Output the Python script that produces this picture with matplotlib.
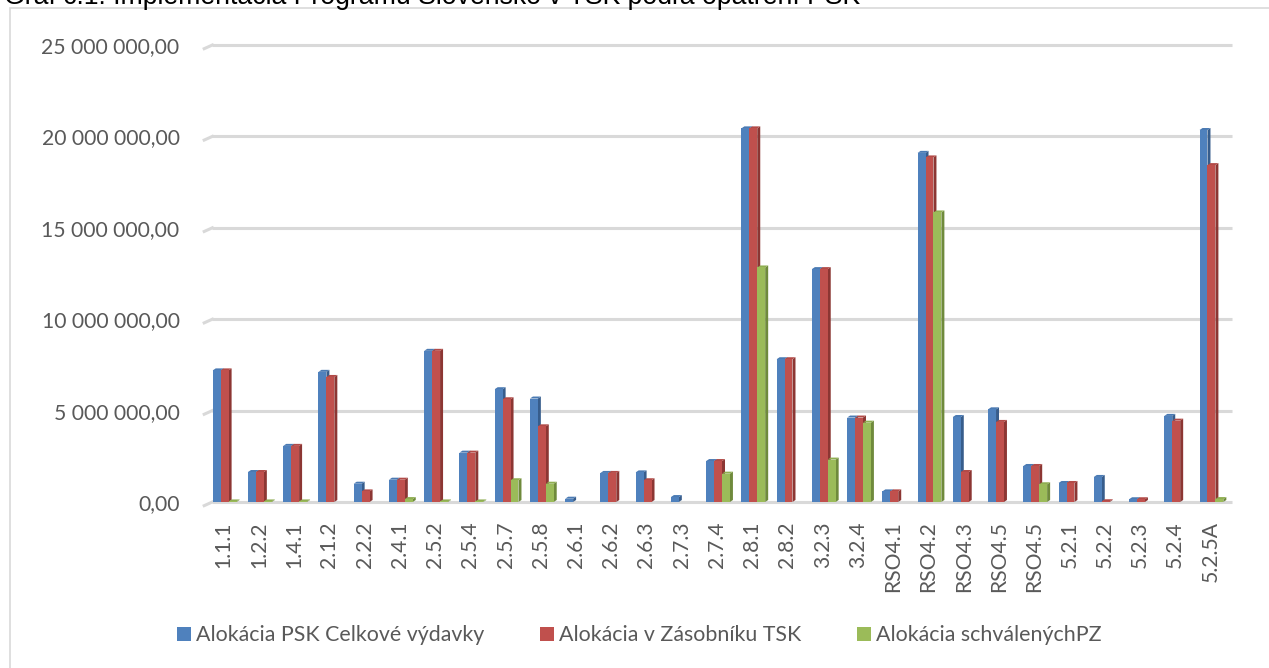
import matplotlib
matplotlib.use("Agg")
import matplotlib.pyplot as plt
from matplotlib.patches import Polygon, Rectangle
from matplotlib.ticker import FuncFormatter

# measures (opatrenia) and allocations in EUR
measures = ["1.1.1", "1.2.2", "1.4.1", "2.1.2", "2.2.2", "2.4.1", "2.5.2", "2.5.4",
            "2.5.7", "2.5.8", "2.6.1", "2.6.2", "2.6.3", "2.7.3", "2.7.4", "2.8.1",
            "2.8.2", "3.2.3", "3.2.4", "RSO4.1", "RSO4.2", "RSO4.3", "RSO4.5",
            "RSO4.5", "5.2.1", "5.2.2", "5.2.3", "5.2.4", "5.2.5A"]

psk_total = [7200000, 1640000, 3070000, 7120000, 1000000, 1220000, 8270000, 2700000,
             6170000, 5660000, 180000, 1590000, 1620000, 270000, 2240000, 20440000,
             7810000, 12740000, 4620000, 580000, 19100000, 4650000, 5070000,
             1970000, 1040000, 1370000, 150000, 4710000, 20350000]
tsk_stack = [7200000, 1640000, 3070000, 6840000, 580000, 1220000, 8270000, 2700000,
             5620000, 4140000, 0, 1590000, 1190000, 0, 2240000, 20440000,
             7810000, 12740000, 4620000, 580000, 18850000, 1640000, 4380000,
             1970000, 1040000, 40000, 150000, 4450000, 18430000]
approved_pz = [30000, 30000, 30000, 0, 0, 160000, 30000, 30000,
               1190000, 1000000, 0, 0, 0, 0, 1550000, 12830000,
               0, 2320000, 4340000, 0, 15840000, 0, 0,
               970000, 0, 0, 0, 0, 160000]

series_names = ["Alokácia PSK Celkové výdavky", "Alokácia v Zásobníku TSK",
                "Alokácia schválenýchPZ"]

front = ["#4F81BD", "#C0504D", "#9BBB59"]
side = ["#375D8C", "#8C3633", "#6F8A3C"]
top = ["#4A7AB3", "#B24A47", "#8FAE52"]

label_font = ["Lato", "DejaVu Sans"]
grey_txt = "#595959"

fig = plt.figure(figsize=(12.69, 6.68), dpi=100, facecolor="white")
ax = fig.add_axes([0.1623, 0.2485, 0.8054, 0.6841])

# chart border (cut off at the right and bottom in the original)
fig.patches.append(Rectangle((10 / 1269, -0.1), 1.2, 1.1 - 8 / 668,
                             transform=fig.transFigure, fill=False,
                             edgecolor="#D9D9D9", lw=1.2))

# title is cut by the top edge in the original picture
fig.text(4 / 1269, 1 - 4 / 668,
         "Graf č.1: Implementácia Programu Slovensko v TSK podľa opatrení PSK",
         fontsize=19.2, family=["Liberation Sans", "DejaVu Sans"], color="black",
         va="baseline", ha="left")

ax.set_xlim(-0.5, len(measures) - 0.5)
ax.set_ylim(0, 25000000)
for s in ax.spines.values():
    s.set_visible(False)

# gridlines with the little 3D corner at the left
yticks = [0, 5000000, 10000000, 15000000, 20000000, 25000000]
for yv in yticks:
    ax.plot([-0.32, len(measures) - 0.38], [yv, yv], color="#D9D9D9", lw=2.2,
            zorder=0, clip_on=False, solid_capstyle="butt")
    ax.plot([-0.55, -0.32], [yv - 200000, yv], color="#D9D9D9", lw=2.2,
            zorder=0, clip_on=False)

w = 0.225
dx = 0.085
dy = 110000
data = [psk_total, tsk_stack, approved_pz]
for k, vals in enumerate(data):
    for i, v in enumerate(vals):
        if v <= 0:
            continue
        x0 = i + (k - 1) * w - w / 2 + 0.03
        ax.add_patch(Polygon([(x0 + w, 0), (x0 + w + dx, dy), (x0 + w + dx, v + dy), (x0 + w, v)],
                             closed=True, facecolor=side[k], edgecolor="none", zorder=2 + k))
        ax.add_patch(Polygon([(x0, v), (x0 + dx, v + dy), (x0 + w + dx, v + dy), (x0 + w, v)],
                             closed=True, facecolor=top[k], edgecolor="none", zorder=2 + k))
        ax.bar(x0, v, width=w, align="edge", color=front[k], zorder=2 + k, linewidth=0)

ax.set_yticks(yticks)
ax.yaxis.set_major_formatter(FuncFormatter(
    lambda v, p: "{:,.2f}".format(v).replace(",", " ").replace(".", ",")))
ax.set_xticks(range(len(measures)))
ax.set_xticklabels(measures, rotation=90)
ax.tick_params(axis="both", length=0, labelsize=15.2, labelcolor=grey_txt)
ax.tick_params(axis="y", pad=19)
ax.tick_params(axis="x", pad=14)
for t in ax.get_xticklabels() + ax.get_yticklabels():
    t.set_family(label_font)

handles = [Rectangle((0, 0), 1, 1, facecolor=c, edgecolor="none") for c in front]
fig.legend(handles, series_names, loc="center", bbox_to_anchor=(0.504, 0.049),
           ncol=3, frameon=False, prop={"family": label_font, "size": 15.4},
           labelcolor=grey_txt, handlelength=0.65, handleheight=0.65,
           handletextpad=0.25, columnspacing=2.6)

fig.savefig("out.png", dpi=100, facecolor="white")
